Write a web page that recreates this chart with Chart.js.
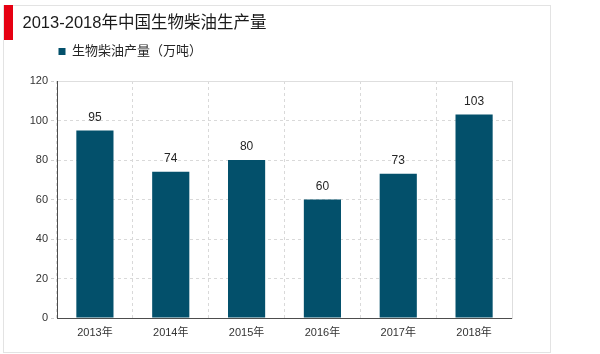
<!DOCTYPE html>
<html>
<head>
    <meta charset="UTF-8">
    <title>2013-2018年中国生物柴油生产量</title>
    <style>
        body {
            margin: 0;
            background: #ffffff;
        }

        #wrap {
            width: 600px;
            height: 354px;
            position: relative;
        }
    </style>
    <script src="https://cdn.jsdelivr.net/npm/chart.js@4.4.1/dist/chart.umd.min.js"></script>
    <script>
        // 데이터
        var years = ['2013年', '2014年', '2015年', '2016年', '2017年', '2018年'];
        var output = [95, 74, 80, 60, 73, 103];
        var seriesName = '生物柴油产量（万吨）';
        var chartTitle = '2013-2018年中国生物柴油生产量';
        var yTicks = [0, 20, 40, 60, 80, 100, 120];

        var fontFamily = "'Liberation Sans', Arial, 'Noto Sans CJK SC', sans-serif";

        // 바깥 테두리 + 빨간 막대
        var framePlugin = {
            id: 'frame',
            beforeDraw: function(chart) {
                var ctx = chart.ctx;
                ctx.save();
                ctx.fillStyle = '#ffffff';
                ctx.fillRect(0, 0, chart.width, chart.height);
                ctx.strokeStyle = '#e3e3e3';
                ctx.lineWidth = 1;
                ctx.strokeRect(3.5, 5.5, 547, 347);
                ctx.fillStyle = '#e60012';
                ctx.fillRect(4, 5, 9, 35);
                ctx.restore();
            }
        };

        // 막대 위 값 표시
        var valueLabels = {
            id: 'valueLabels',
            afterDatasetsDraw: function(chart) {
                var ctx = chart.ctx;
                var meta = chart.getDatasetMeta(0);
                ctx.save();
                ctx.font = '12px ' + fontFamily;
                ctx.fillStyle = '#262626';
                ctx.textAlign = 'center';
                ctx.textBaseline = 'bottom';
                meta.data.forEach(function(bar, i) {
                    ctx.fillText(chart.data.datasets[0].data[i], bar.x, bar.y - 7);
                });
                ctx.restore();
            }
        };

        window.onload = function() {
            var ctx = document.getElementById('bar-chart').getContext('2d');
            new Chart(ctx, {
                type: 'bar',
                data: {
                    labels: years,
                    datasets: [{
                        label: seriesName,
                        data: output,
                        backgroundColor: '#03506b',
                        borderWidth: 0,
                        barPercentage: 0.49,
                        categoryPercentage: 1
                    }]
                },
                options: {
                    responsive: true,
                    maintainAspectRatio: false,
                    animation: false,
                    layout: {
                        padding: { left: 22.5, right: 88, top: 0, bottom: 0 }
                    },
                    plugins: {
                        title: {
                            display: true,
                            text: chartTitle,
                            align: 'start',
                            color: '#1a1a1a',
                            font: { family: fontFamily, size: 16.5, weight: 'normal' },
                            padding: { top: 13.6, bottom: 10.1 }
                        },
                        legend: {
                            display: true,
                            position: 'top',
                            align: 'start',
                            fullSize: false,
                            labels: {
                                boxWidth: 7,
                                boxHeight: 7,
                                padding: 1.5,
                                color: '#262626',
                                font: { family: fontFamily, size: 13 }
                            }
                        },
                        tooltip: { enabled: false }
                    },
                    scales: {
                        x: {
                            grid: {
                                color: '#d9d9d9',
                                drawTicks: false
                            },
                            // v4: border.dash 는 격자선 점선
                            border: { color: '#4d4d4d', width: 1, dash: [3, 3] },
                            ticks: {
                                color: '#333333',
                                padding: 8,
                                font: { family: fontFamily, size: 11 }
                            },
                            afterFit: function(scale) { scale.height = 36; }
                        },
                        x2: {
                            type: 'category',
                            position: 'top',
                            grid: { display: false, drawTicks: false },
                            ticks: { display: false },
                            border: { display: true, color: '#dedede', width: 1 },
                            afterFit: function(scale) { scale.height = 13; }
                        },
                        y: {
                            min: 0,
                            max: 120,
                            afterBuildTicks: function(scale) {
                                scale.ticks = yTicks.map(function(v) { return { value: v }; });
                            },
                            grid: {
                                color: '#d9d9d9',
                                tickLength: 6,
                                tickColor: '#d0d0d0',
                                tickBorderDash: [3, 3]
                            },
                            border: { color: '#4d4d4d', width: 1, dash: [3, 3] },
                            ticks: {
                                color: '#333333',
                                padding: 3,
                                font: { family: fontFamily, size: 11 }
                            },
                            afterFit: function(scale) { scale.width = 34.5; }
                        },
                        y2: {
                            type: 'linear',
                            position: 'right',
                            grid: { display: false, drawTicks: false },
                            ticks: { display: false },
                            border: { display: true, color: '#dedede', width: 1 },
                            afterFit: function(scale) { scale.width = 0; }
                        }
                    }
                },
                plugins: [framePlugin, valueLabels]
            });
        };
    </script>
</head>
<body>
<div id="wrap"><canvas id="bar-chart"></canvas></div>
</body>
</html>
